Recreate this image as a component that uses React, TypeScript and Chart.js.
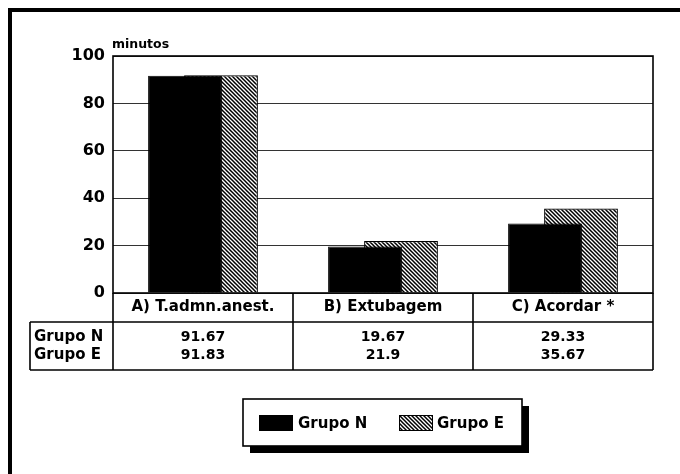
import React, { useEffect, useRef } from "react";
import { Chart, registerables } from "chart.js";

Chart.register(...registerables);

const categories = ["A) T.admn.anest.", "B) Extubagem", "C) Acordar *"];
const seriesNames = ["Grupo N", "Grupo E"];
const grupoN = [91.67, 19.67, 29.33];
const grupoE = [91.83, 21.9, 35.67];
const tableN = ["91.67", "19.67", "29.33"];
const tableE = ["91.83", "21.9", "35.67"];
const yTicks = [0, 20, 40, 60, 80, 100];
const yUnit = "minutos";

const FONT = "'DejaVu Sans', 'Liberation Sans', sans-serif";

function makeHatch(): CanvasPattern | string {
  const c = document.createElement("canvas");
  c.width = 4;
  c.height = 4;
  const g = c.getContext("2d");
  if (!g) return "#777";
  g.fillStyle = "#fff";
  g.fillRect(0, 0, 4, 4);
  g.strokeStyle = "#000";
  g.lineWidth = 1.5;
  g.beginPath();
  g.moveTo(-1, -1);
  g.lineTo(5, 5);
  g.moveTo(-1, 3);
  g.lineTo(1, 5);
  g.moveTo(3, -1);
  g.lineTo(5, 1);
  g.stroke();
  const p = g.createPattern(c, "repeat");
  return p || "#777";
}

export default function App() {
  const ref = useRef<HTMLCanvasElement | null>(null);

  useEffect(() => {
    document.body.style.margin = "0";
    const canvas = ref.current;
    if (!canvas) return;
    const hatch = makeHatch();

    const decor = {
      id: "decor",
      afterDatasetsDraw(chart: any) {
        const ctx = chart.ctx as CanvasRenderingContext2D;
        const a = chart.chartArea;
        const x = chart.scales.x;
        ctx.save();
        ctx.strokeStyle = "#000";
        ctx.lineWidth = 1.6;
        // plot frame
        ctx.strokeRect(a.left, a.top, a.right - a.left, a.bottom - a.top);

        // table geometry
        const headerBottom = a.bottom + 29;
        const tableBottom = a.bottom + 77;
        const labelLeft = 30;
        ctx.beginPath();
        ctx.moveTo(labelLeft, headerBottom);
        ctx.lineTo(a.right, headerBottom);
        ctx.moveTo(labelLeft, tableBottom);
        ctx.lineTo(a.right, tableBottom);
        ctx.moveTo(labelLeft, headerBottom);
        ctx.lineTo(labelLeft, tableBottom);
        const n = categories.length;
        for (let i = 0; i <= n; i++) {
          const px = a.left + ((a.right - a.left) * i) / n;
          ctx.moveTo(px, a.bottom);
          ctx.lineTo(px, tableBottom);
        }
        ctx.stroke();

        // row labels and values
        ctx.fillStyle = "#000";
        ctx.textBaseline = "middle";
        const rowY = [headerBottom + 15, headerBottom + 33];
        ctx.font = `bold 15px ${FONT}`;
        ctx.textAlign = "left";
        ctx.fillText(seriesNames[0], 34, rowY[0]);
        ctx.fillText(seriesNames[1], 34, rowY[1]);
        ctx.font = `bold 14px ${FONT}`;
        ctx.textAlign = "center";
        for (let i = 0; i < n; i++) {
          const cx = x.getPixelForValue(i);
          ctx.fillText(tableN[i], cx, rowY[0]);
          ctx.fillText(tableE[i], cx, rowY[1]);
        }

        // unit label
        ctx.font = `bold 12.5px ${FONT}`;
        ctx.textAlign = "left";
        ctx.textBaseline = "alphabetic";
        ctx.fillText(yUnit, a.left - 1, a.top - 8);

        // legend
        const lx = 243, ly = 399, lw = 279, lh = 47;
        ctx.fillStyle = "#000";
        ctx.fillRect(lx + 7, ly + 7, lw, lh);
        ctx.fillStyle = "#fff";
        ctx.fillRect(lx, ly, lw, lh);
        ctx.lineWidth = 1.6;
        ctx.strokeRect(lx, ly, lw, lh);
        ctx.fillStyle = "#000";
        ctx.fillRect(259, 415, 34, 16);
        ctx.fillStyle = hatch as any;
        ctx.fillRect(399, 415, 34, 16);
        ctx.lineWidth = 1;
        ctx.strokeRect(399.5, 415.5, 33, 15);
        ctx.fillStyle = "#000";
        ctx.font = `bold 15px ${FONT}`;
        ctx.textBaseline = "middle";
        ctx.textAlign = "left";
        ctx.fillText(seriesNames[0], 298, 424);
        ctx.fillText(seriesNames[1], 437, 424);

        // outer frame (only top/left visible)
        ctx.lineWidth = 4;
        ctx.strokeRect(10, 10, 720, 520);
        ctx.restore();
      },
    };

    const chart = new Chart(canvas, {
      type: "bar",
      data: {
        labels: categories,
        datasets: [
          {
            label: seriesNames[0],
            data: grupoN,
            backgroundColor: "#000",
            borderColor: "#000",
            borderWidth: 1,
            categoryPercentage: 0.4,
            barPercentage: 2.05,
          },
          {
            label: seriesNames[1],
            data: grupoE,
            backgroundColor: hatch as any,
            borderColor: "#000",
            borderWidth: 1.2,
            categoryPercentage: 0.4,
            barPercentage: 2.05,
          },
        ],
      },
      options: {
        animation: false,
        responsive: false,
        maintainAspectRatio: false,
        layout: { padding: { left: 13, top: 56, right: 27, bottom: 151 } },
        plugins: { legend: { display: false }, tooltip: { enabled: false } },
        scales: {
          x: {
            grid: { display: false, drawTicks: false },
            border: { display: false },
            ticks: {
              color: "#000",
              font: { family: FONT, weight: "bold", size: 15 },
              padding: 5,
              maxRotation: 0,
              autoSkip: false,
            },
            afterFit(scale: any) {
              scale.height = 30;
            },
          },
          y: {
            min: 0,
            max: 100,
            afterBuildTicks(scale: any) {
              scale.ticks = yTicks.map((v) => ({ value: v }));
            },
            grid: {
              color: "#333",
              lineWidth: 1,
              drawTicks: false,
            },
            border: { display: false },
            ticks: {
              color: "#000",
              font: { family: FONT, weight: "bold", size: 16 },
              padding: 8,
            },
            afterFit(scale: any) {
              scale.width = 100;
            },
          },
        },
      },
      plugins: [decor],
    });
    return () => chart.destroy();
  }, []);

  return (
    <div style={{ position: "fixed", left: 0, top: 0, width: 680, height: 474, background: "#fff" }}>
      <canvas ref={ref} width={680} height={474} style={{ display: "block" }} />
    </div>
  );
}
